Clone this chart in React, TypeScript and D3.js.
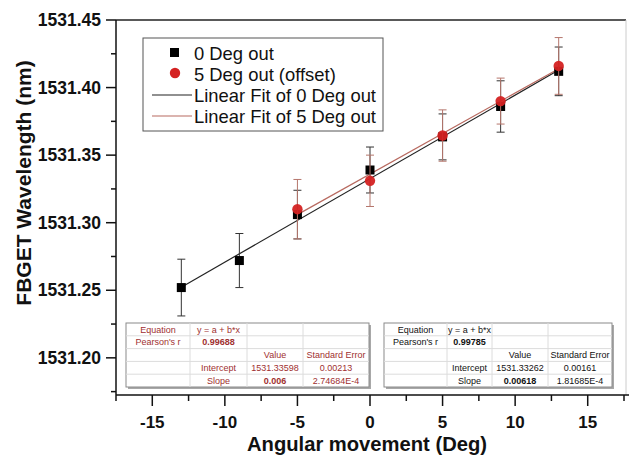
import React from "react";
import * as d3 from "d3";

const xs0 = [-13, -9, -5, 0, 5, 9, 13];
const ys0 = [1531.252, 1531.272, 1531.306, 1531.339, 1531.3635, 1531.386, 1531.412];
const err0 = [0.021, 0.02, 0.018, 0.017, 0.017, 0.019, 0.018];
const xs5 = [-5, 0, 5, 9, 13];
const ys5 = [1531.31, 1531.331, 1531.3645, 1531.39, 1531.416];
const err5 = [0.022, 0.019, 0.019, 0.017, 0.021];
const fit0 = { a: 1531.33262, b: 0.00618, x0: -13, x1: 13 };
const fit5 = { a: 1531.33598, b: 0.006, x0: -5, x1: 13 };
const xTicks = [-15, -10, -5, 0, 5, 10, 15];
const yTicks = [1531.2, 1531.25, 1531.3, 1531.35, 1531.4, 1531.45];
const legendLabels = ["0 Deg out", "5 Deg out (offset)", "Linear Fit of 0 Deg out", "Linear Fit of 5 Deg out"];
const table5 = [
  ["Equation", "y = a + b*x", "", ""],
  ["Pearson's r", "0.99688", "", ""],
  ["", "", "Value", "Standard Error"],
  ["", "Intercept", "1531.33598", "0.00213"],
  ["", "Slope", "0.006", "2.74684E-4"],
];
const table0 = [
  ["Equation", "y = a + b*x", "", ""],
  ["Pearson's r", "0.99785", "", ""],
  ["", "", "Value", "Standard Error"],
  ["", "Intercept", "1531.33262", "0.00161"],
  ["", "Slope", "0.00618", "1.81685E-4"],
];
const boldCells = [[1, 1], [4, 2]];

const FONT = "'Liberation Sans', Arial, sans-serif";
const RED = "#d42222";
const REDLINE = "#b86a60";
const REDERR = "#b5766c";
const TABRED = "#a03030";

function Table({ x, y, cols, rows, color }: { x: number; y: number; cols: number[]; rows: string[][]; color: string }) {
  const rh = 12.8;
  const w = cols[cols.length - 1] - cols[0];
  const h = rh * rows.length;
  return (
    <g>
      <rect x={x + 2} y={y + 2} width={w} height={h} fill="#a8a8a8" />
      <rect x={x} y={y} width={w} height={h} fill="white" stroke="#8a8a8a" strokeWidth={1} />
      {rows.map((_, i) => i > 0 && <line key={"h" + i} x1={x} x2={x + w} y1={y + i * rh} y2={y + i * rh} stroke="#dcdcdc" />)}
      {cols.slice(1, -1).map((c, i) => <line key={"v" + i} x1={x + c - cols[0]} x2={x + c - cols[0]} y1={y} y2={y + h} stroke="#dcdcdc" />)}
      {rows.map((r, i) =>
        r.map((t, j) => (
          <text key={i + "-" + j} x={x + (cols[j] + cols[j + 1]) / 2 - cols[0]} y={y + i * rh + 9.6} textAnchor="middle" fontSize={9} fontFamily={FONT} fill={color}
            fontWeight={boldCells.some(([a, b]) => a === i && b === j) ? "bold" : "normal"}>{t}</text>
        ))
      )}
    </g>
  );
}

export default function App() {
  const W = 629, H = 456;
  const x = d3.scaleLinear().domain([-17.5, 17.5]).range([116, 624]);
  const y = d3.scaleLinear().domain([1531.1725, 1531.45]).range([395, 20]);
  const xMinor = d3.range(-17.5, 17.6, 2.5).filter((v) => !xTicks.includes(v));
  const yMinor = d3.range(1531.175, 1531.45, 0.05);
  const fitPath = (f: typeof fit0) => {
    const pts: [number, number][] = [f.x0, f.x1].map((v) => [x(v), y(f.a + f.b * v)]);
    return d3.line()(pts) as string;
  };
  const cap = 4;
  return (
    <svg width={W} height={H} style={{ position: "absolute", left: 0, top: 0 }} fontFamily={FONT}>
      <rect width={W} height={H} fill="white" />
      {/* frame */}
      <line x1={116} x2={626} y1={20} y2={20} stroke="#222" strokeWidth={1.5} />
      <line x1={626} x2={626} y1={20} y2={395} stroke="#ccc" strokeWidth={1} />
      <line x1={116} x2={116} y1={20} y2={395} stroke="#111" strokeWidth={1.5} />
      <line x1={116} x2={629} y1={395} y2={395} stroke="#111" strokeWidth={1.5} />
      {xTicks.map((t) => (
        <g key={t}>
          <line x1={x(t)} x2={x(t)} y1={395} y2={406} stroke="#111" strokeWidth={1.5} />
          <text x={x(t)} y={428} textAnchor="middle" fontSize={17} fontWeight="bold" fill="#111">{t}</text>
        </g>
      ))}
      {xMinor.map((t) => <line key={t} x1={x(t)} x2={x(t)} y1={395} y2={401} stroke="#111" strokeWidth={1.5} />)}
      {yTicks.map((t) => (
        <g key={t}>
          <line x1={106} x2={116} y1={y(t)} y2={y(t)} stroke="#111" strokeWidth={1.5} />
          <text x={101} y={y(t) + 6} textAnchor="end" fontSize={17.5} fontWeight="bold" fill="#111">{t.toFixed(2)}</text>
        </g>
      ))}
      {yMinor.map((t) => <line key={t} x1={111} x2={116} y1={y(t)} y2={y(t)} stroke="#111" strokeWidth={1.5} />)}
      <text x={367} y={451} textAnchor="middle" fontSize={20.2} fontWeight="bold" fill="#111">Angular movement (Deg)</text>
      <text transform="translate(31,183) rotate(-90)" textAnchor="middle" fontSize={21} fontWeight="bold" fill="#111">FBGET Wavelength (nm)</text>

      {/* tables */}
      <Table x={126} y={323} cols={[126, 190, 247, 303, 369]} rows={table5} color={TABRED} />
      <Table x={384} y={323} cols={[384, 447, 492, 548, 612]} rows={table0} color="#111" />

      {/* fits */}
      <path d={fitPath(fit0)} stroke="#222" strokeWidth={1.2} fill="none" />
      <path d={fitPath(fit5)} stroke={REDLINE} strokeWidth={1.2} fill="none" />

      {/* black data */}
      {xs0.map((v, i) => (
        <g key={"e0" + i} stroke="#333" strokeWidth={1}>
          <line x1={x(v)} x2={x(v)} y1={y(ys0[i] - err0[i])} y2={y(ys0[i] + err0[i])} />
          <line x1={x(v) - cap} x2={x(v) + cap} y1={y(ys0[i] - err0[i])} y2={y(ys0[i] - err0[i])} />
          <line x1={x(v) - cap} x2={x(v) + cap} y1={y(ys0[i] + err0[i])} y2={y(ys0[i] + err0[i])} />
        </g>
      ))}
      {xs0.map((v, i) => <rect key={"s" + i} x={x(v) - 4.5} y={y(ys0[i]) - 4.5} width={9} height={9} fill="#000" />)}
      {/* red data */}
      {xs5.map((v, i) => (
        <g key={"e5" + i} stroke={REDERR} strokeWidth={1}>
          <line x1={x(v)} x2={x(v)} y1={y(ys5[i] - err5[i])} y2={y(ys5[i] + err5[i])} />
          <line x1={x(v) - cap} x2={x(v) + cap} y1={y(ys5[i] - err5[i])} y2={y(ys5[i] - err5[i])} />
          <line x1={x(v) - cap} x2={x(v) + cap} y1={y(ys5[i] + err5[i])} y2={y(ys5[i] + err5[i])} />
        </g>
      ))}
      {xs5.map((v, i) => <circle key={"c" + i} cx={x(v)} cy={y(ys5[i])} r={5.2} fill={RED} opacity={0.95} />)}

      {/* legend */}
      <rect x={143} y={38} width={240} height={93} fill="white" stroke="#555" strokeWidth={1} />
      <rect x={170} y={48} width={9} height={9} fill="#000" />
      <circle cx={175} cy={73} r={5.2} fill={RED} />
      <line x1={152} x2={192} y1={95} y2={95} stroke="#222" strokeWidth={1.2} />
      <line x1={152} x2={192} y1={116} y2={116} stroke={REDLINE} strokeWidth={1.2} />
      {legendLabels.map((l, i) => (
        <text key={l} x={194} y={59.5 + i * 21.2} fontSize={18.4} fill="#111">{l}</text>
      ))}
    </svg>
  );
}
